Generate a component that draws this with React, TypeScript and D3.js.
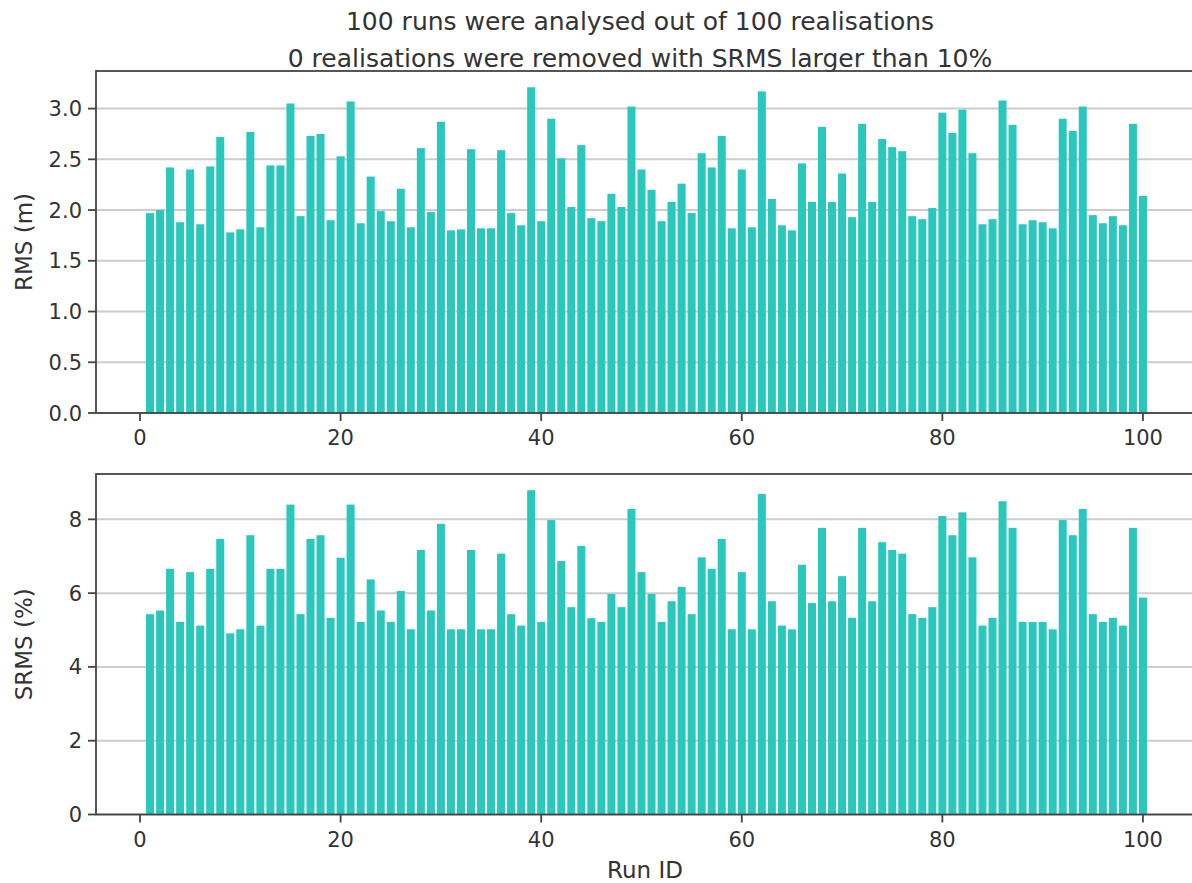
import * as d3 from "d3";
import React from "react";

const runIds = d3.range(1, 101);

const rmsValues = [
	1.97, 2.0, 2.42, 1.88, 2.4, 1.86, 2.43, 2.72, 1.78, 1.81,
	2.77, 1.83, 2.44, 2.44, 3.05, 1.94, 2.73, 2.75, 1.9, 2.53,
	3.07, 1.87, 2.33, 1.99, 1.89, 2.21, 1.83, 2.61, 1.98, 2.87,
	1.8, 1.81, 2.6, 1.82, 1.82, 2.59, 1.97, 1.85, 3.21, 1.89,
	2.9, 2.51, 2.03, 2.64, 1.92, 1.89, 2.16, 2.03, 3.02, 2.4,
	2.2, 1.89, 2.08, 2.26, 1.97, 2.56, 2.42, 2.73, 1.82, 2.4,
	1.83, 3.17, 2.11, 1.85, 1.8, 2.46, 2.08, 2.82, 2.08, 2.36,
	1.93, 2.85, 2.08, 2.7, 2.62, 2.58, 1.94, 1.91, 2.02, 2.96,
	2.76, 2.99, 2.56, 1.86, 1.91, 3.08, 2.84, 1.86, 1.9, 1.88,
	1.82, 2.9, 2.78, 3.02, 1.95, 1.87, 1.94, 1.85, 2.85, 2.14,
];

const srmsValues = [
	5.43, 5.53, 6.66, 5.22, 6.57, 5.12, 6.66, 7.47, 4.91, 5.02,
	7.57, 5.12, 6.66, 6.66, 8.4, 5.43, 7.47, 7.57, 5.33, 6.96,
	8.4, 5.22, 6.37, 5.53, 5.22, 6.06, 5.02, 7.17, 5.53, 7.88,
	5.02, 5.02, 7.17, 5.02, 5.02, 7.07, 5.43, 5.12, 8.79, 5.22,
	7.98, 6.87, 5.62, 7.28, 5.32, 5.22, 5.98, 5.62, 8.28, 6.57,
	5.98, 5.22, 5.78, 6.17, 5.43, 6.97, 6.66, 7.47, 5.02, 6.57,
	5.02, 8.69, 5.78, 5.12, 5.02, 6.77, 5.73, 7.77, 5.78, 6.46,
	5.33, 7.77, 5.78, 7.38, 7.17, 7.07, 5.43, 5.33, 5.62, 8.09,
	7.57, 8.19, 6.97, 5.12, 5.33, 8.49, 7.77, 5.22, 5.22, 5.22,
	5.02, 7.98, 7.57, 8.28, 5.43, 5.22, 5.33, 5.12, 7.77, 5.88,
];

const xTicks = [0, 20, 40, 60, 80, 100];
const rmsTicks = [0, 0.5, 1.0, 1.5, 2.0, 2.5, 3.0];
const srmsTicks = [0, 2, 4, 6, 8];

const titleLines = [
	"100 runs were analysed out of 100 realisations",
	"0 realisations were removed with SRMS larger than 10%",
];

const W = 1192;
const H = 883;
const FONT = "DejaVu Sans, Verdana, sans-serif";
const BAR = "#29c7bc";
const INK = "#333333";
const SPINE = "#444444";
const GRID = "#cccccc";
const BAR_W = 0.8;

const x = d3.scaleLinear().domain([-4.39, 105.39]).range([96, 1197]);

interface PanelProps {
	values: number[];
	ticks: number[];
	format: (v: number) => string;
	label: string;
	top: number;
	bottom: number;
	xLabel?: string;
}

const Panel = ({ values, ticks, format, label, top, bottom, xLabel }: PanelProps) => {
	const yMax = (d3.max(values) ?? 0) * 1.05;
	const y = d3.scaleLinear().domain([0, yMax]).range([bottom, top]);
	const left = x.range()[0];
	const right = x.range()[1];

	return (
		<g>
			{ticks.map((t) => (
				<line key={"g" + t} x1={left} x2={right} y1={y(t)} y2={y(t)} stroke={GRID} strokeWidth={2} />
			))}
			{values.map((v, i) => (
				<rect
					key={i}
					x={x(runIds[i] - BAR_W / 2)}
					y={y(v)}
					width={x(BAR_W) - x(0)}
					height={y(0) - y(v)}
					fill={BAR}
				/>
			))}
			<rect x={left} y={top} width={right - left} height={bottom - top} fill="none" stroke={SPINE} strokeWidth={1.8} />
			{ticks.map((t) => (
				<g key={"y" + t}>
					<line x1={left - 8} x2={left} y1={y(t)} y2={y(t)} stroke={SPINE} strokeWidth={1.8} />
					<text x={left - 14} y={y(t)} dy="0.36em" textAnchor="end" fontSize={21} fill={INK}>
						{format(t)}
					</text>
				</g>
			))}
			{xTicks.map((t) => (
				<g key={"x" + t}>
					<line x1={x(t)} x2={x(t)} y1={bottom} y2={bottom + 8} stroke={SPINE} strokeWidth={1.8} />
					<text x={x(t)} y={bottom + 32} textAnchor="middle" fontSize={21} fill={INK}>
						{t}
					</text>
				</g>
			))}
			<text
				transform={`translate(32,${(top + bottom) / 2}) rotate(-90)`}
				textAnchor="middle"
				fontSize={23}
				fill={INK}
			>
				{label}
			</text>
			{xLabel && (
				<text x={645} y={bottom + 63} textAnchor="middle" fontSize={23} fill={INK}>
					{xLabel}
				</text>
			)}
		</g>
	);
};

const App = () => {
	return (
		<svg
			width={W}
			height={H}
			viewBox={`0 0 ${W} ${H}`}
			style={{ position: "absolute", left: 0, top: 0, background: "#fff" }}
			fontFamily={FONT}
		>
			<rect width={W} height={H} fill="#fff" />
			{titleLines.map((line, i) => (
				<text key={i} x={640} y={30 + i * 37} textAnchor="middle" fontSize={25} fill={INK}>
					{line}
				</text>
			))}
			<Panel values={rmsValues} ticks={rmsTicks} format={d3.format(".1f")} label="RMS (m)" top={71} bottom={413} />
			<Panel
				values={srmsValues}
				ticks={srmsTicks}
				format={d3.format("d")}
				label="SRMS (%)"
				top={474}
				bottom={814.5}
				xLabel="Run ID"
			/>
		</svg>
	);
};

export default App;
